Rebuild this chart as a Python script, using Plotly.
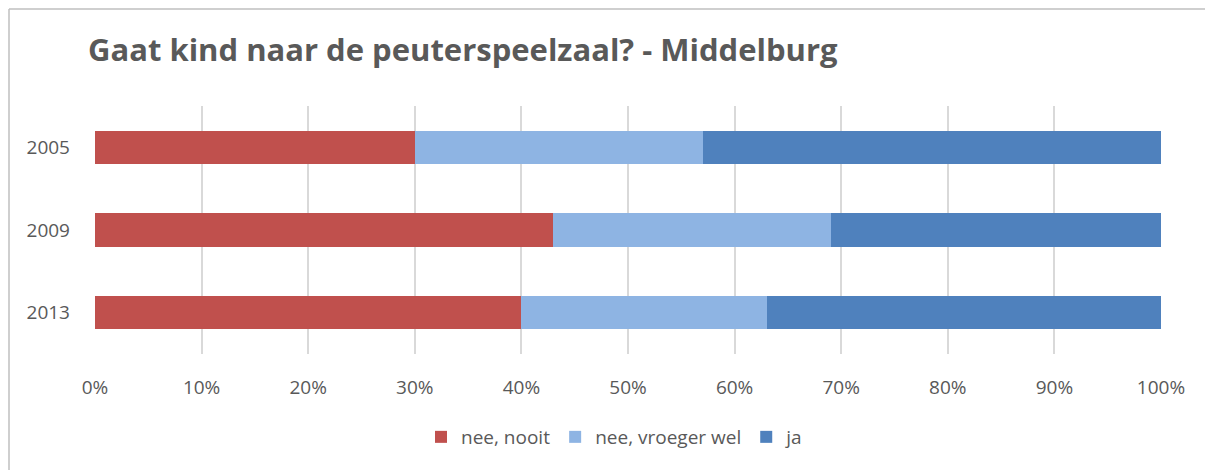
import plotly.graph_objects as go

years = ["2005", "2009", "2013"]
nee_nooit = [0.30, 0.43, 0.40]
nee_vroeger_wel = [0.27, 0.26, 0.23]
ja = [0.43, 0.31, 0.37]
x_ticks = [i / 10 for i in range(11)]
x_tick_labels = [f"{i*10}%" for i in range(11)]

series = [
    ("nee, nooit", nee_nooit, "#C0504D"),
    ("nee, vroeger wel", nee_vroeger_wel, "#8EB4E3"),
    ("ja", ja, "#4F81BD"),
]

fig = go.Figure()
for name, vals, col in series:
    fig.add_trace(go.Bar(
        y=years, x=vals, name=name, orientation="h",
        marker=dict(color=col, line=dict(width=0)),
    ))

# page body adds an 8px offset; work in reference pixels minus 8
OFF = 8
W, H = 1213 - OFF, 470 - OFF
L, R, T, B = 87, 52, 98, 116
pw, ph = W - L - R, H - T - B

def px_x(p):
    return (p - OFF - L) / pw

def px_y(p):
    return (H - B - (p - OFF)) / ph

border = dict(color="#BFBFBF", width=1.5)

fig.update_layout(
    width=W, height=H,
    barmode="stack", bargap=0.6,
    margin=dict(l=L, r=R, t=T, b=B),
    paper_bgcolor="white", plot_bgcolor="white",
    font=dict(family="Open Sans", color="#595959", size=18),
    title=dict(
        text="<b>Gaat kind naar de peuterspeelzaal? - Middelburg</b>",
        x=(88 - OFF) / W, xanchor="left", y=1 - (50 - OFF) / H, yanchor="middle",
        font=dict(family="Open Sans", size=31, color="#595959"),
    ),
    xaxis=dict(
        range=[0, 1], tickvals=x_ticks, ticktext=x_tick_labels,
        showgrid=True, gridcolor="#D9D9D9", gridwidth=1.5,
        zeroline=False, showline=False, ticks="",
        ticklabelstandoff=20,
        tickfont=dict(size=19, color="#595959"),
    ),
    yaxis=dict(
        autorange="reversed", showgrid=False, zeroline=False,
        showline=False, ticks="", ticklabelstandoff=24,
        tickfont=dict(size=19, color="#595959"),
    ),
    legend=dict(
        orientation="h", x=px_x(615), xanchor="center",
        y=px_y(437), yanchor="middle",
        font=dict(size=19, color="#595959"),
        itemwidth=30, traceorder="normal",
    ),
    shapes=[
        dict(type="line", xref="paper", yref="paper",
             x0=px_x(OFF + 1), x1=px_x(1213), y0=px_y(OFF + 1), y1=px_y(OFF + 1),
             line=border, layer="below"),
        dict(type="line", xref="paper", yref="paper",
             x0=px_x(OFF + 1), x1=px_x(OFF + 1), y0=px_y(OFF + 1), y1=px_y(470),
             line=border, layer="below"),
    ],
)

fig.write_html("out.html")
